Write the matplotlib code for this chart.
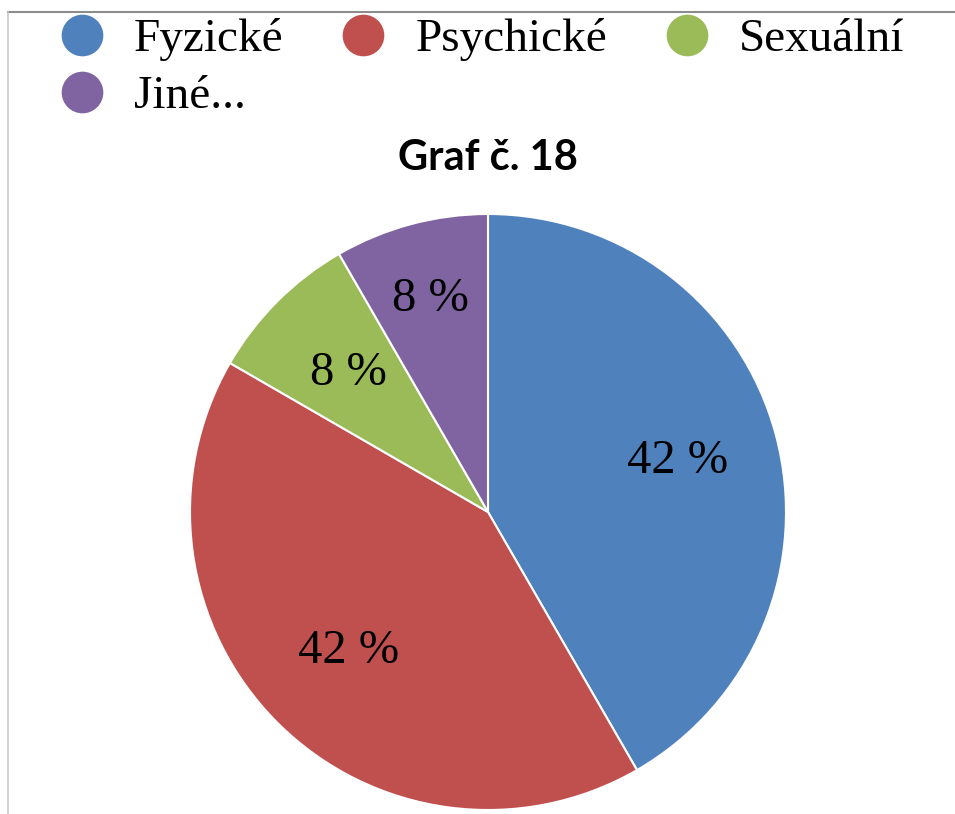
import matplotlib.pyplot as plt
from matplotlib.lines import Line2D

categories = ["Fyzické", "Psychické", "Sexuální", "Jiné..."]
counts = [5, 5, 1, 1]
colors = ["#4F81BD", "#C0504D", "#9BBB59", "#8064A2"]

W, H = 955, 814
fig = plt.figure(figsize=(W / 100, H / 100), dpi=100)

# pie axes: centre (488, 512) px, radius 298 px
r = 298
ax = fig.add_axes([(488 - r) / W, (H - 512 - r) / H, 2 * r / W, 2 * r / H])
wedges, texts, autotexts = ax.pie(
    counts,
    colors=colors,
    startangle=90,
    counterclock=False,
    autopct=lambda p: f"{p:.0f} %",
    pctdistance=0.66,
    wedgeprops=dict(edgecolor="white", linewidth=1.5),
    textprops=dict(fontsize=35, family="Liberation Serif", color="black"),
)
ax.set_xlim(-1, 1)
ax.set_ylim(-1, 1)
ax.set_aspect("equal")
# the small "Jiné" label sits a bit further out
x, y = autotexts[3].get_position()
autotexts[3].set_position((x * 0.74 / 0.66, y * 0.74 / 0.66))

fig.text(488 / W, 1 - 158 / H, "Graf č. 18", ha="center", va="center",
         fontsize=30, fontweight="bold", family="Lato")

# legend, reordered so columns come out like the original
order = [0, 3, 1, 2]
handles = [Line2D([], [], marker="o", linestyle="", markersize=31,
                  markerfacecolor=colors[i], markeredgecolor="white",
                  markeredgewidth=1) for i in order]
fig.legend(handles, [categories[i] for i in order], ncol=3,
           loc="upper left", bbox_to_anchor=(58 / W, 1 - 18 / H),
           frameon=False, prop=dict(family="Liberation Serif", size=34),
           handlelength=1.0, handletextpad=0.6, columnspacing=1.2,
           labelspacing=0.3, borderpad=0, borderaxespad=0)

# frame lines seen on the top and left edges
fig.add_artist(Line2D([8 / W, 1], [1 - 12 / H, 1 - 12 / H], color="#8c8c8c", lw=1.5))
fig.add_artist(Line2D([8 / W, 8 / W], [0, 1 - 12 / H], color="#c8c8c8", lw=1.2))

fig.savefig("out.png", dpi=100)
